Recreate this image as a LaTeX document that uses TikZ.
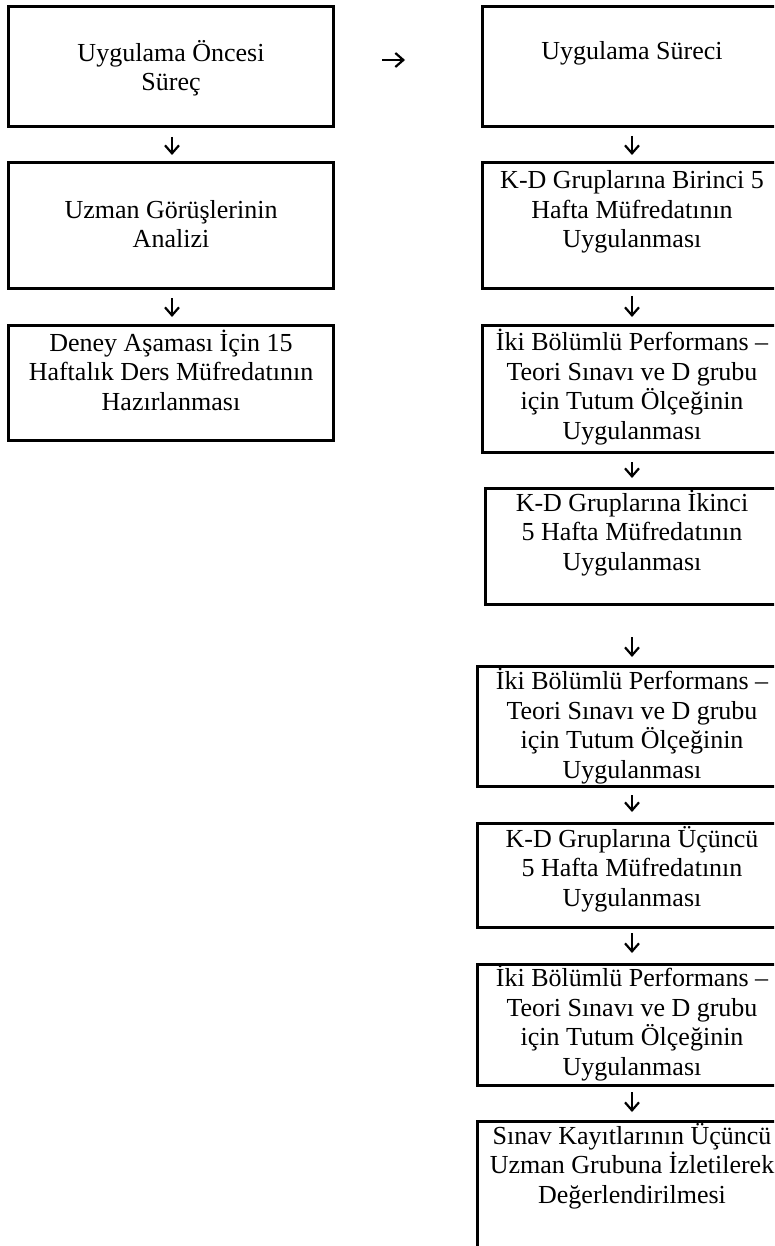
\documentclass[tikz,border=0pt]{standalone}
\usepackage{fontspec}
\setmainfont{Liberation Serif}
\usetikzlibrary{arrows.meta}
\begin{document}
\begin{tikzpicture}[x=1pt,y=-1pt,
  box/.style={draw, line width=3pt, inner sep=0pt, outer sep=0pt},
  txt/.style={align=center, font=\fontsize{26}{29.5}\selectfont, inner sep=0pt},
  arr/.style={-{Straight Barb[length=8pt,width=14pt]}, line width=2.2pt}]
\useasboundingbox (0,0) rectangle (774,1246);
\clip (0,0) rectangle (774,1246);
% left column boxes
\node[box, minimum width=325pt, minimum height=120pt] (L1) at (170.5,67) {};
\node[box, minimum width=325pt, minimum height=126pt] (L2) at (170.5,226) {};
\node[box, minimum width=325pt, minimum height=115pt] (L3) at (170.5,382.5) {};
% right column boxes
\node[box, minimum width=300pt, minimum height=120pt] (R1) at (632,67) {};
\node[box, minimum width=300pt, minimum height=126pt] (R2) at (632,226) {};
\node[box, minimum width=300pt, minimum height=127pt] (R3) at (632,388.5) {};
\node[box, minimum width=294pt, minimum height=116pt] (R4) at (632,546) {};
\node[box, minimum width=310pt, minimum height=120pt] (R5) at (632,726) {};
\node[box, minimum width=310pt, minimum height=104pt] (R6) at (632,875) {};
\node[box, minimum width=310pt, minimum height=121pt] (R7) at (632,1024.5) {};
\node[box, minimum width=310pt, minimum height=149pt] (R8) at (632,1195.5) {};
% texts
\node[txt] (tL1) at (171,68) {Uygulama Öncesi\\Süreç};
\node[txt] (tL2) at (171,224) {Uzman Görüşlerinin\\Analizi};
\node[txt] (tL3) at (171,370) {Deney Aşaması İçin 15\\Haftalık Ders Müfredatının\\Hazırlanması};
\node[txt] (tR1) at (632,53) {Uygulama Süreci};
\node[txt] (tR2) at (632,212) {K-D Gruplarına Birinci 5\\Hafta Müfredatının\\Uygulanması};
\node[txt] (tR3) at (632,387) {İki Bölümlü Performans –\\Teori Sınavı ve D grubu\\için Tutum Ölçeğinin\\Uygulanması};
\node[txt] (tR4) at (632,533) {K-D Gruplarına İkinci\\5 Hafta Müfredatının\\Uygulanması};
\node[txt] (tR5) at (632,726) {İki Bölümlü Performans –\\Teori Sınavı ve D grubu\\için Tutum Ölçeğinin\\Uygulanması};
\node[txt] (tR6) at (632,869) {K-D Gruplarına Üçüncü\\5 Hafta Müfredatının\\Uygulanması};
\node[txt] (tR7) at (632,1023) {İki Bölümlü Performans –\\Teori Sınavı ve D grubu\\için Tutum Ölçeğinin\\Uygulanması};
\node[txt] (tR8) at (632,1166) {Sınav Kayıtlarının Üçüncü\\Uzman Grubuna İzletilerek\\Değerlendirilmesi};
% arrows
\draw[arr, shorten <=49pt, shorten >=77pt] ([yshift=7pt]L1.east) -- ([yshift=7pt]R1.west);
\draw[arr, shorten <=10pt, shorten >=8pt] ([xshift=1.5pt]L1.south) -- ([xshift=1.5pt]L2.north);
\draw[arr, shorten <=9pt, shorten >=8pt] ([xshift=1.5pt]L2.south) -- ([xshift=1.5pt]L3.north);
\draw[arr, shorten <=9pt, shorten >=8pt] (R1.south) -- (R2.north);
\draw[arr, shorten <=7pt, shorten >=8pt] (R2.south) -- (R3.north);
\draw[arr, shorten <=10pt, shorten >=10pt] (R3.south) -- (R4.north);
\draw[arr, shorten <=33pt, shorten >=9pt] (R4.south) -- (R5.north);
\draw[arr, shorten <=9pt, shorten >=11pt] (R5.south) -- (R6.north);
\draw[arr, shorten <=6pt, shorten >=11pt] (R6.south) -- (R7.north);
\draw[arr, shorten <=7pt, shorten >=9pt] (R7.south) -- (R8.north);
\end{tikzpicture}
\end{document}
